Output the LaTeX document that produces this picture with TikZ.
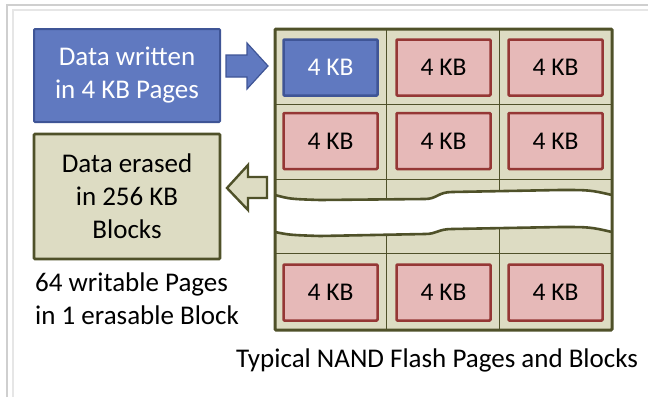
\documentclass[tikz,border=0pt]{standalone}
\usepackage{fontspec}
\setmainfont{Carlito}
\definecolor{bluefill}{HTML}{6079C0}
\definecolor{blueline}{HTML}{3F5596}
\definecolor{khaki}{HTML}{DDDCC3}
\definecolor{olive}{HTML}{4F5129}
\definecolor{pinkfill}{HTML}{E6B9B8}
\definecolor{redline}{HTML}{953735}
\definecolor{framea}{HTML}{CFCFCF}
\definecolor{frameb}{HTML}{E6E6E6}
\begin{document}
\begin{tikzpicture}[x=1pt,y=-1pt,
  bigtxt/.style={font=\fontsize{27}{33}\selectfont, align=center, inner sep=0pt},
  cell/.style={draw=redline, fill=pinkfill, line width=2.5pt, minimum width=94pt, minimum height=56pt,
    font=\fontsize{25.5}{28}\selectfont, inner sep=0pt, rounded corners=1pt},
  bluecell/.style={cell, draw=blueline, fill=bluefill, text=white},
  divider/.style={draw=olive, line width=0.9pt},
  band/.style={draw=olive, line width=2.6pt},
  blockarrow/.style={line join=miter}]
\useasboundingbox (0,0) rectangle (648,397);
% outer page frame
\draw[framea, line width=1.2pt] (7,397) -- (7,5) -- (648,5);
\draw[frameb, line width=1.2pt] (13,397) -- (13,10) -- (648,10);

% left boxes
\node[bigtxt, draw=blueline, fill=bluefill, line width=2pt, text=white,
      minimum width=186pt, minimum height=93pt, rounded corners=1pt] (wbox) at (127,75.5)
      {Data written\\in 4 KB Pages};
\node[bigtxt, draw=olive, fill=khaki, line width=2.8pt,
      minimum width=186pt, minimum height=125pt, rounded corners=1pt] (ebox) at (127,196.5)
      {Data erased\\in 256 KB\\Blocks};
\node[bigtxt, align=left, anchor=north west] (note) at (35,273)
      {64 writable Pages\\in 1 erasable Block};

% grid background and dividers
\fill[khaki] (275,29) rectangle (612,330);
\draw[divider] (386,29) -- (386,330) (499,29) -- (499,330);
\draw[divider] (275,104) -- (612,104) (275,179) -- (612,179) (275,253) -- (612,253);
% white break band
\fill[white] (275,195) .. controls (290,199) .. (320,200) -- (425,199)
   .. controls (437,199) and (438,192) .. (452,192) -- (560,190) .. controls (590,190) .. (612,195)
   -- (612,232) .. controls (590,227) .. (560,227) -- (452,229)
   .. controls (438,229) and (437,234) .. (425,234) -- (320,236) .. controls (290,235) .. (275,232) -- cycle;
\draw[band] (275,195) .. controls (290,199) .. (320,200) -- (425,199)
   .. controls (437,199) and (438,192) .. (452,192) -- (560,190) .. controls (590,190) .. (612,195);
\draw[band] (275,232) .. controls (290,235) .. (320,236) -- (425,234)
   .. controls (437,234) and (438,229) .. (452,229) -- (560,227) .. controls (590,227) .. (612,232);
\draw[draw=olive, line width=3pt, rounded corners=1pt] (275,29) rectangle (612,330);

% cells
\node[bluecell] (c11) at (330.5,67.5) {4 KB};
\node[cell] (c12) at (443.5,67.5) {4 KB};
\node[cell] (c13) at (555.5,67.5) {4 KB};
\node[cell] (c21) at (330.5,141) {4 KB};
\node[cell] (c22) at (443.5,141) {4 KB};
\node[cell] (c23) at (555.5,141) {4 KB};
\node[cell] (c41) at (330.5,292.5) {4 KB};
\node[cell] (c42) at (443.5,292.5) {4 KB};
\node[cell] (c43) at (555.5,292.5) {4 KB};

% block arrows
\draw[blockarrow, draw=blueline, fill=bluefill, line width=1.2pt]
  (226,55) -- (247,55) -- (247,43) -- (268,66) -- (247,89) -- (247,77) -- (226,77) -- cycle;
\draw[blockarrow, draw=olive, fill=khaki, line width=2.4pt]
  (267,177) -- (248,177) -- (248,165) -- (227,188) -- (248,210) -- (248,198) -- (267,198) -- cycle;

% caption
\node[font=\fontsize{27}{33}\selectfont, inner sep=0pt, anchor=base] (cap) at (437,367)
  {Typical NAND Flash Pages and Blocks};
\end{tikzpicture}
\end{document}
